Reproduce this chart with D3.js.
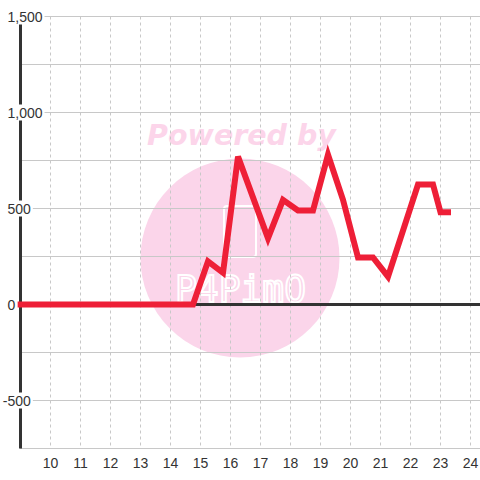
<!DOCTYPE html>
<html><head><meta charset="utf-8">
<script src="https://cdn.jsdelivr.net/npm/d3@7"></script>
<style>html,body{margin:0;padding:0;background:#fff;}svg{display:block;}</style>
</head><body>
<svg id="c" width="480" height="480"></svg>
<script>
const xValues = [9, 14.75, 15.25, 15.75, 16.25, 17.25, 17.75, 18.25, 18.75, 19.25, 19.75, 20.25, 20.75, 21.25, 22.25, 22.75, 23.0, 23.25];
const yValues = [0, 0, 225, 165, 770, 345, 545, 490, 490, 780, 545, 245, 245, 145, 625, 625, 480, 480];
const xTicks = [10, 11, 12, 13, 14, 15, 16, 17, 18, 19, 20, 21, 22, 23, 24];
const yGridTicks = [-750, -500, -250, 0, 250, 500, 750, 1000, 1250, 1500];
const yLabelTicks = [1500, 1000, 500, 0, -500];

const svg = d3.select("#c");
const x = d3.scaleLinear().domain([9, 24]).range([20.5, 470.5]);
const y = d3.scaleLinear().domain([-750, 1500]).range([448.5, 16.5]);
const font = "'Liberation Sans', Arial, sans-serif";

svg.append("rect").attr("width", 480).attr("height", 480).attr("fill", "#ffffff");

// watermark
const wm = svg.append("g");
wm.append("circle").attr("cx", 240).attr("cy", 258).attr("r", 99.5).attr("fill", "#fbd5ea");
wm.append("text").attr("x", 241.5).attr("y", 145).attr("text-anchor", "middle")
  .attr("font-family", "'DejaVu Sans', sans-serif").attr("font-weight", "bold").attr("font-style", "italic")
  .attr("font-size", 28.5).attr("fill", "#fcd5ea").text("Powered by");
wm.append("rect").attr("x", 224).attr("y", 206).attr("width", 32).attr("height", 51).attr("rx", 3)
  .attr("fill", "none").attr("stroke", "#ffffff").attr("stroke-width", 2);
wm.append("text").attr("x", 175).attr("y", 302).attr("textLength", 131).attr("lengthAdjust", "spacingAndGlyphs")
  .attr("font-family", "'DejaVu Sans Mono', monospace").attr("font-size", 38)
  .attr("fill", "none").attr("stroke", "#ffffff").attr("stroke-width", 2).text("P4PimO");

// grid
svg.append("g").selectAll("line").data(yGridTicks).join("line")
  .attr("x1", 20).attr("x2", 480).attr("y1", d => y(d)).attr("y2", d => y(d))
  .attr("stroke", "#c8c8c8").attr("stroke-width", 1);
svg.append("g").selectAll("line").data(xTicks).join("line")
  .attr("x1", d => x(d)).attr("x2", d => x(d)).attr("y1", y(1500)).attr("y2", y(-750))
  .attr("stroke", "#c8c8c8").attr("stroke-width", 1).attr("stroke-dasharray", "3,3");

// axes lines
svg.append("line").attr("x1", 20.5).attr("x2", 20.5).attr("y1", y(1500)).attr("y2", y(-750))
  .attr("stroke", "#333").attr("stroke-width", 3);
svg.append("line").attr("x1", 20).attr("x2", 480).attr("y1", y(0)).attr("y2", y(0))
  .attr("stroke", "#333").attr("stroke-width", 3);

// series
const pts = xValues.map((d, i) => [d, yValues[i]]);
svg.append("path").datum(pts)
  .attr("d", d3.line().x(d => x(d[0])).y(d => y(d[1])))
  .attr("fill", "none").attr("stroke", "#ee1f37").attr("stroke-width", 6)
  .attr("stroke-linecap", "square").attr("stroke-linejoin", "miter");

// y labels
const fmt = v => d3.format(",")(v).replace("\u2212", "-");
const yl = svg.append("g");
yLabelTicks.forEach(v => {
  const g = yl.append("g");
  const bg = g.append("rect").attr("fill", "#ffffff");
  const t = g.append("text").attr("y", y(v) + 5).attr("font-family", font).attr("font-size", 14)
    .attr("fill", "#333").text(fmt(v));
  let x0 = 7.5;
  if (v < 0) {
    const m = svg.append("text").attr("font-family", font).attr("font-size", 14).text("-");
    x0 -= m.node().getComputedTextLength();
    m.remove();
  }
  t.attr("x", x0);
  const w = t.node().getComputedTextLength();
  bg.attr("x", x0 - 1).attr("y", y(v) - 8).attr("width", w + 3).attr("height", 16);
});

// x labels
svg.append("g").selectAll("text").data(xTicks).join("text")
  .attr("x", d => x(d)).attr("y", 468).attr("text-anchor", "middle")
  .attr("font-family", font).attr("font-size", 14).attr("fill", "#333").text(d => d);
</script>
</body></html>
